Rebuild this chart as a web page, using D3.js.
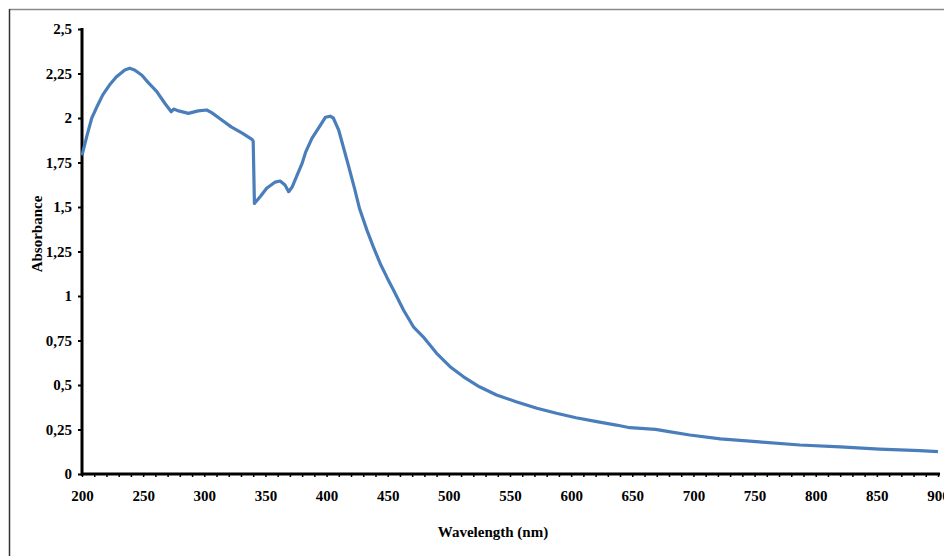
<!DOCTYPE html>
<html>
<head>
<meta charset="utf-8">
<script src="https://d3js.org/d3.v7.min.js"></script>
<style>
	body { margin: 0; background: #fff; }
	text { font-family: "Liberation Serif", "Times New Roman", serif; font-weight: bold; fill: #000; }
</style>
</head>
<body>
<svg id="chart"></svg>
<script>
// DATA
var wavelength = [200, 204, 208, 212, 217, 223, 228, 235, 239, 243, 249, 254, 261, 268, 273, 275, 279, 287, 295, 302,
	306, 314, 322, 331, 339, 340, 341, 346, 351, 358, 362, 366, 369, 372, 376, 380, 383, 388, 395, 399,
	403, 405.5, 410, 414, 418, 423, 427, 433, 438, 444, 449, 450, 455, 459, 463, 471, 479, 490, 501, 512,
	525, 539, 555, 572, 588, 604, 621, 637, 648, 660, 669, 680, 697, 722, 754, 787, 820, 852, 885, 900];
var absorbance = [1.79, 1.90, 2.00, 2.06, 2.13, 2.19, 2.23, 2.27, 2.28, 2.27, 2.24, 2.20, 2.15, 2.08, 2.035, 2.05, 2.04, 2.026, 2.04, 2.045,
	2.03, 1.99, 1.95, 1.915, 1.88, 1.87, 1.52, 1.56, 1.605, 1.64, 1.646, 1.624, 1.586, 1.614, 1.68, 1.745, 1.81, 1.886, 1.96, 2.004,
	2.01, 2.0, 1.93, 1.83, 1.73, 1.60, 1.49, 1.37, 1.28, 1.18, 1.11, 1.095, 1.03, 0.975, 0.92, 0.827, 0.771, 0.678, 0.603, 0.546,
	0.49, 0.444, 0.406, 0.369, 0.341, 0.316, 0.294, 0.275, 0.26, 0.255, 0.251, 0.238, 0.219, 0.197, 0.18, 0.163, 0.152, 0.14, 0.131, 0.126];

var xTicks = [200, 250, 300, 350, 400, 450, 500, 550, 600, 650, 700, 750, 800, 850, 900];
var yTicks = [0, 0.25, 0.5, 0.75, 1, 1.25, 1.5, 1.75, 2, 2.25, 2.5];

var spectrum = wavelength.map((w, i) => { return {w: w, a: absorbance[i]}; });

// DRAWING AREA
var width = 944;
var height = 556;

var svg = d3.select("#chart")
	.attr("width", width)
	.attr("height", height);

// FRAME (cut by the picture on right and bottom)
svg.append("line")
	.attr("x1", 9).attr("x2", width)
	.attr("y1", 9.5).attr("y2", 9.5)
	.style("stroke", "#8a8a8a")
	.style("stroke-width", 1.5);
svg.append("line")
	.attr("x1", 9.5).attr("x2", 9.5)
	.attr("y1", 9).attr("y2", height)
	.style("stroke", "#333")
	.style("stroke-width", 1.5);

// SCALES
var xScale = d3.scaleLinear()
	.domain([200, 900])
	.range([82, 938]);

var yScale = d3.scaleLinear()
	.domain([0, 2.5])
	.range([474, 29]);

var fmt = (d) => { return String(d).replace(".", ","); };

// X AXIS : minor ticks every 10 nm under the line
var xAxis = svg.append("g")
	.attr("transform", "translate(0," + yScale(0) + ")")
	.call(d3.axisBottom(xScale)
		.tickValues(d3.range(200, 901, 10))
		.tickSize(3)
		.tickFormat(""));
xAxis.select(".domain").remove();
xAxis.selectAll(".tick line").style("stroke", "#000").style("stroke-width", 1.5);
xAxis.append("line")
	.attr("x1", xScale(200) - 1).attr("x2", xScale(900) + 2)
	.attr("y1", 0).attr("y2", 0)
	.style("stroke", "#000")
	.style("stroke-width", 3);

var xLabels = svg.append("g")
	.attr("transform", "translate(0," + yScale(0) + ")")
	.call(d3.axisBottom(xScale)
		.tickValues(xTicks)
		.tickSize(0)
		.tickPadding(16)
		.tickFormat(fmt));
xLabels.select(".domain").remove();
xLabels.selectAll("text").style("font-size", "15px");

// Y AXIS
var yAxis = svg.append("g")
	.attr("transform", "translate(" + xScale(200) + ",0)")
	.call(d3.axisLeft(yScale)
		.tickValues(yTicks)
		.tickSize(4)
		.tickPadding(6)
		.tickFormat(fmt));
yAxis.select(".domain").remove();
yAxis.selectAll(".tick line").style("stroke", "#000").style("stroke-width", 2);
yAxis.selectAll("text").style("font-size", "15px");
yAxis.append("line")
	.attr("x1", 0).attr("x2", 0)
	.attr("y1", yScale(2.5) - 1).attr("y2", yScale(0) + 1.5)
	.style("stroke", "#000")
	.style("stroke-width", 3);

// SPECTRUM LINE
var line = d3.line()
	.x((d) => { return xScale(d.w); })
	.y((d) => { return yScale(d.a); });

svg.append("path")
	.datum(spectrum)
	.attr("d", line)
	.style("fill", "none")
	.style("stroke", "#4a7ebb")
	.style("stroke-width", 3.2)
	.style("stroke-linejoin", "round");

// AXIS TITLES
svg.append("text")
	.attr("x", 493)
	.attr("y", 537)
	.style("text-anchor", "middle")
	.style("font-size", "15px")
	.text("Wavelength (nm)");

svg.append("text")
	.attr("transform", "translate(42,234) rotate(-90)")
	.style("text-anchor", "middle")
	.style("font-size", "15px")
	.text("Absorbance");
</script>
</body>
</html>
